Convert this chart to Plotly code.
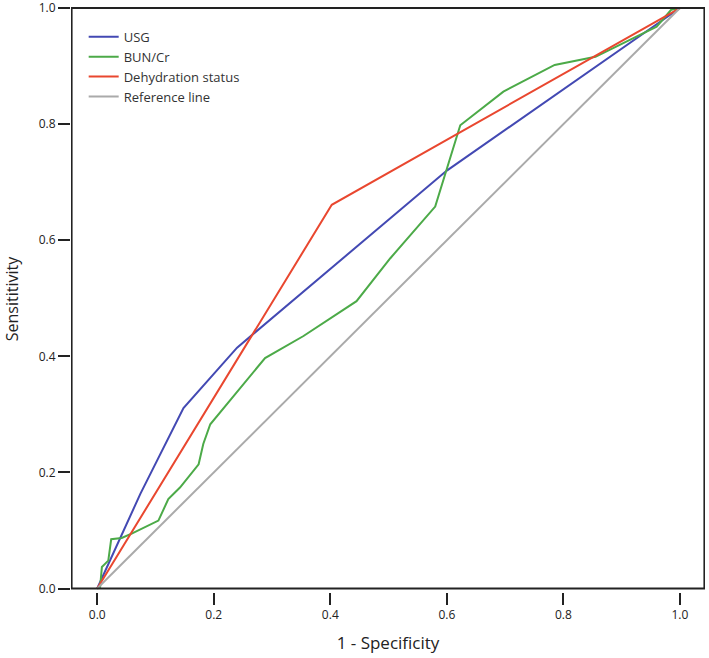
import plotly.graph_objects as go

# ROC curves
usg_fpr = [0.0, 0.074, 0.148, 0.24, 0.60, 1.0]
usg_tpr = [0.0, 0.163, 0.311, 0.415, 0.72, 1.0]

bun_fpr = [0.0, 0.005, 0.008, 0.014, 0.019, 0.024, 0.042, 0.06, 0.105, 0.122,
           0.142, 0.174, 0.182, 0.194, 0.288, 0.354, 0.445, 0.503, 0.58, 0.623,
           0.697, 0.785, 0.855, 0.96, 0.985, 1.0]
bun_tpr = [0.0, 0.003, 0.037, 0.044, 0.048, 0.085, 0.087, 0.095, 0.117, 0.154,
           0.174, 0.214, 0.249, 0.283, 0.397, 0.435, 0.495, 0.569, 0.658, 0.798,
           0.856, 0.902, 0.916, 0.968, 0.997, 1.0]

dehyd_fpr = [0.0, 0.4025, 1.0]
dehyd_tpr = [0.0, 0.661, 1.0]

ref_fpr = [0.0, 1.0]
ref_tpr = [0.0, 1.0]

ticks = [0.0, 0.2, 0.4, 0.6, 0.8, 1.0]
tick_text = ["0.0", "0.2", "0.4", "0.6", "0.8", "1.0"]

FONT = "Open Sans, sans-serif"

fig = go.Figure()
fig.add_trace(go.Scatter(x=usg_fpr, y=usg_tpr, mode="lines", name="USG",
                         line=dict(color="#4349b3", width=2)))
fig.add_trace(go.Scatter(x=bun_fpr, y=bun_tpr, mode="lines", name="BUN/Cr",
                         line=dict(color="#4caa48", width=2)))
fig.add_trace(go.Scatter(x=dehyd_fpr, y=dehyd_tpr, mode="lines", name="Dehydration status",
                         line=dict(color="#e9472f", width=2)))
fig.add_trace(go.Scatter(x=ref_fpr, y=ref_tpr, mode="lines", name="Reference line",
                         line=dict(color="#aaaaaa", width=2)))

# frame drawn as a shape so the x ticks sit a little below it
fig.add_shape(type="rect", xref="x", yref="y", x0=-0.044, x1=1.042, y0=0, y1=1,
              line=dict(color="#222222", width=2), layer="above")

fig.update_layout(
    width=709, height=658,
    margin=dict(l=71, r=4, t=6, b=66, autoexpand=False),
    plot_bgcolor="white", paper_bgcolor="white",
    font=dict(family=FONT, size=12, color="#222222"),
    showlegend=True,
    legend=dict(x=0.02, y=0.973, xanchor="left", yanchor="top",
                bgcolor="rgba(0,0,0,0)", font=dict(size=13, color="#333333")),
)
fig.update_xaxes(range=[-0.045, 1.043], tickvals=ticks, ticktext=tick_text,
                 showgrid=False, zeroline=False, showline=False, automargin=False,
                 ticks="outside", ticklen=12, tickwidth=2, tickcolor="#222222",
                 ticklabeloverflow="allow", tickfont=dict(size=12),
                 title=dict(text="1 - Specificity", font=dict(size=17), standoff=14))
fig.update_yaxes(range=[-0.006, 1.0035], tickvals=ticks, ticktext=tick_text,
                 showgrid=False, zeroline=False, showline=False, automargin=False,
                 ticks="outside", ticklen=12, tickwidth=2, tickcolor="#222222",
                 ticklabeloverflow="allow", tickfont=dict(size=12),
                 title=dict(text="Sensititivity", font=dict(size=16), standoff=16))

# drop the page's default body margin so the figure sits at the window corner
fig.write_html("out.html", config={"displayModeBar": False},
               post_script="document.body.style.margin='0';")
